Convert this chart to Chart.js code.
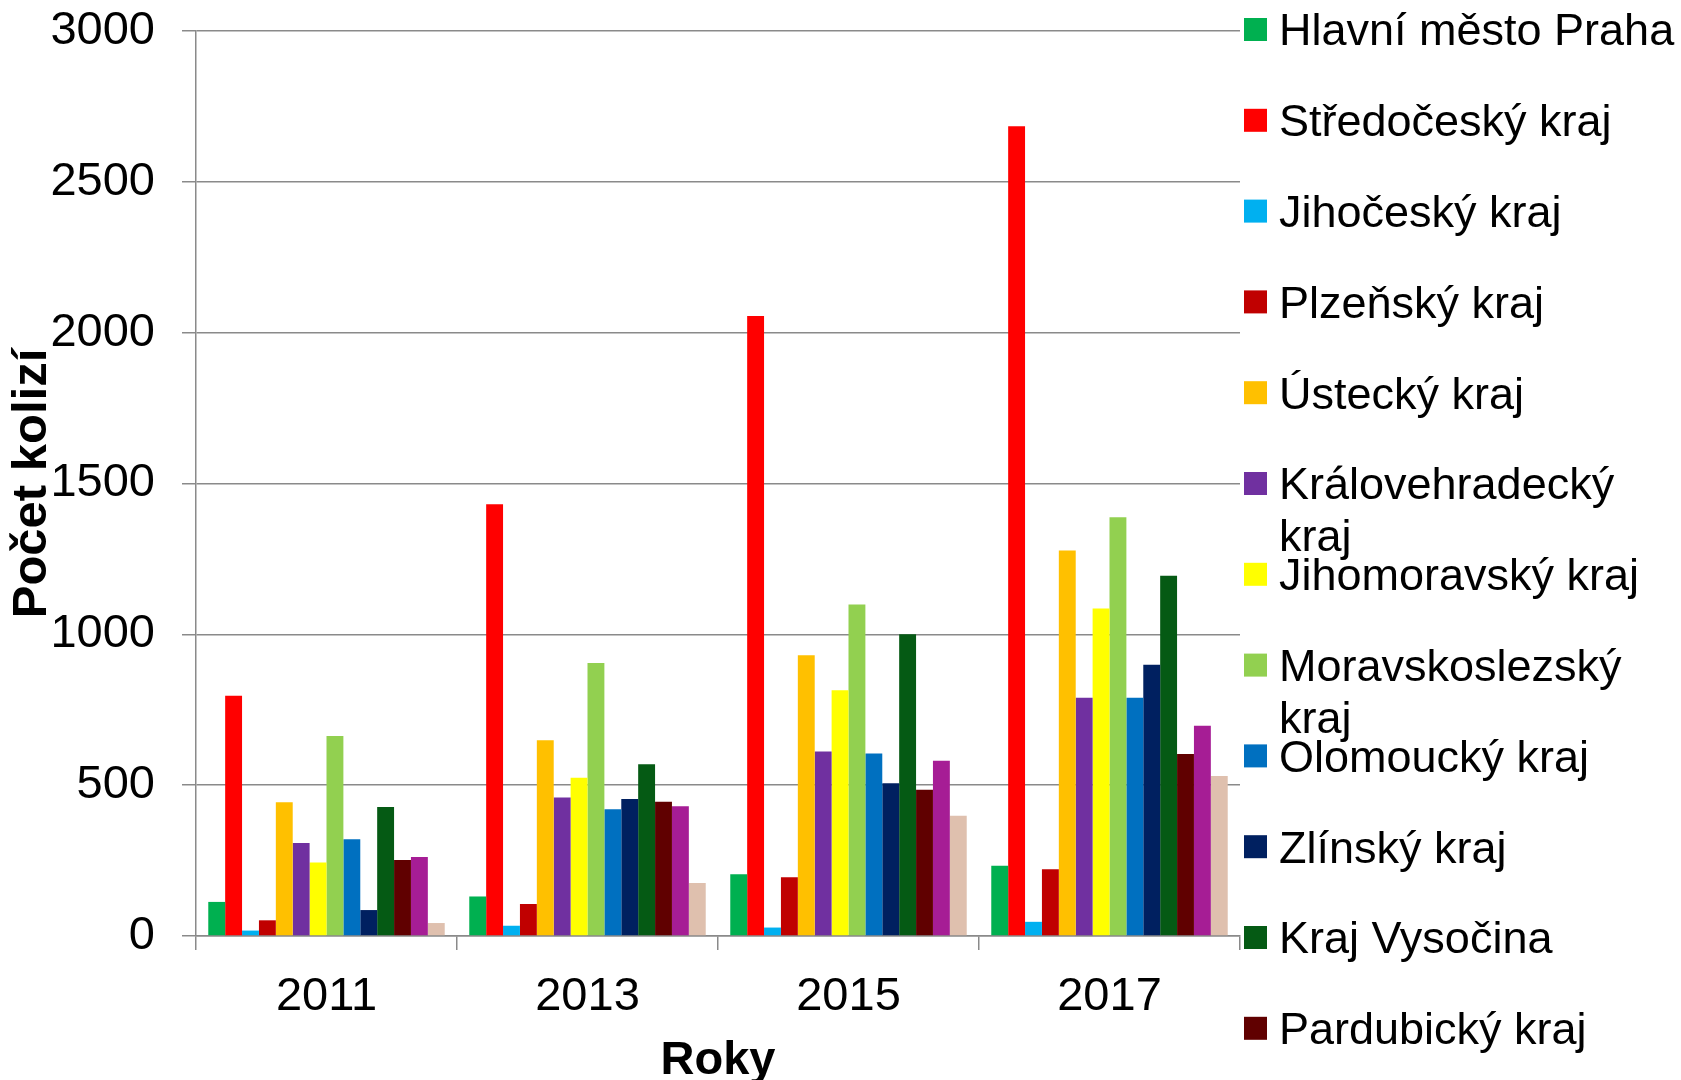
<!DOCTYPE html>
<html lang="cs">
<head>
<meta charset="UTF-8">
<title>Počet kolizí podle krajů</title>
<script src="https://cdn.jsdelivr.net/npm/chart.js@4.4.0/dist/chart.umd.min.js"></script>
<style>
  html, body { margin: 0; padding: 0; background: #fff; }
</style>
</head>
<body>
<canvas id="kolize" width="1681" height="1080"></canvas>
<script>
// roky na ose x
const roky = ['2011', '2013', '2015', '2017'];

// kraje v poradi serii (posledni dve se do legendy nevejdou)
const kraje = ['Hlavní město Praha', 'Středočeský kraj', 'Jihočeský kraj', 'Plzeňský kraj',
    'Ústecký kraj', 'Královehradecký kraj', 'Jihomoravský kraj', 'Moravskoslezský kraj',
    'Olomoucký kraj', 'Zlínský kraj', 'Kraj Vysočina', 'Pardubický kraj',
    'Liberecký kraj', 'Karlovarský kraj'];

const barvy = ['#00B050', '#FF0000', '#00B0F0', '#C00000', '#FFC000', '#7030A0', '#FFFF00',
    '#92D050', '#0070C0', '#002060', '#055A14', '#600000', '#A61D95', '#DFC0AE'];

// pocet kolizi
const praha = [113, 131, 205, 233];
const stredocesky = [796, 1431, 2055, 2684];
const jihocesky = [18, 34, 28, 47];
const plzensky = [52, 106, 195, 221];
const ustecky = [443, 649, 931, 1278];
const kralovehradecky = [308, 459, 612, 790];
const jihomoravsky = [244, 525, 815, 1086];
const moravskoslezsky = [663, 905, 1099, 1388];
const olomoucky = [321, 420, 605, 790];
const zlinsky = [86, 454, 506, 899];
const vysocina = [428, 569, 1000, 1194];
const pardubicky = [252, 445, 485, 603];
const liberecky = [262, 430, 581, 697];
const karlovarsky = [43, 176, 399, 530];

const hodnoty = [praha, stredocesky, jihocesky, plzensky, ustecky, kralovehradecky,
    jihomoravsky, moravskoslezsky, olomoucky, zlinsky, vysocina, pardubicky,
    liberecky, karlovarsky];

const pismo = "'Liberation Sans', Arial, sans-serif";
const seda = '#8a8a8a';

// legenda vpravo - jako v Excelu, dlouhe nazvy se zalamuji
const legendaVpravo = {
    id: 'legendaVpravo',
    afterDraw(chart) {
        const ctx = chart.ctx;
        const boxX = 1244, textX = 1279, maxW = 1681 - textX;
        ctx.save();
        ctx.font = '45px ' + pismo;
        ctx.textBaseline = 'middle';
        ctx.textAlign = 'left';
        chart.data.datasets.forEach((ds, i) => {
            const y = 33 + i * 90.8;
            ctx.fillStyle = ds.backgroundColor;
            ctx.fillRect(boxX, y - 15, 23, 23);
            ctx.fillStyle = '#000';
            // zalomeni radku
            const slova = ds.label.split(' ');
            let radky = [], radek = '';
            slova.forEach(s => {
                const zkus = radek ? radek + ' ' + s : s;
                if (ctx.measureText(zkus).width > maxW && radek) {
                    radky.push(radek);
                    radek = s;
                } else {
                    radek = zkus;
                }
            });
            radky.push(radek);
            radky.forEach((r, j) => ctx.fillText(r, textX, y + j * 52));
        });
        ctx.restore();
    }
};

const ctx = document.getElementById('kolize').getContext('2d');
const myChart = new Chart(ctx, {
    type: 'bar',
    data: {
        labels: roky,
        datasets: kraje.map((k, i) => ({
            label: k,
            data: hodnoty[i],
            backgroundColor: barvy[i],
            borderWidth: 0,
            categoryPercentage: 0.906,
            barPercentage: 1
        }))
    },
    options: {
        responsive: false,
        animation: false,
        layout: { padding: { left: 0, right: 441, top: 31, bottom: 0 } },
        plugins: {
            legend: { display: false },
            tooltip: { enabled: false }
        },
        scales: {
            x: {
                ticks: { color: '#000', font: { family: pismo, size: 47 }, padding: 19 },
                grid: { drawOnChartArea: false, offset: true, tickLength: 14, color: seda, lineWidth: 1.5 },
                border: { color: seda, width: 1.5 },
                title: {
                    display: true, text: 'Roky', color: '#000',
                    font: { family: pismo, size: 47, weight: 'bold', lineHeight: 0.8 },
                    padding: { top: 0, bottom: 0 }
                },
                afterFit(s) { s.height = 144; }
            },
            y: {
                min: 0,
                max: 3000,
                ticks: {
                    stepSize: 500, color: '#000', font: { family: pismo, size: 47, lineHeight: 0.1 }, padding: 27,
                    callback: v => String(v)
                },
                grid: { color: seda, lineWidth: 1.5, tickLength: 14 },
                border: { color: seda, width: 1.5 },
                title: {
                    display: true, text: 'Počet kolizí', color: '#000',
                    font: { family: pismo, size: 49, weight: 'bold', lineHeight: 1.2 },
                    padding: { top: 3, bottom: 0 }
                },
                afterFit(s) { s.width = 196; }
            }
        }
    },
    plugins: [legendaVpravo]
});
</script>
</body>
</html>
